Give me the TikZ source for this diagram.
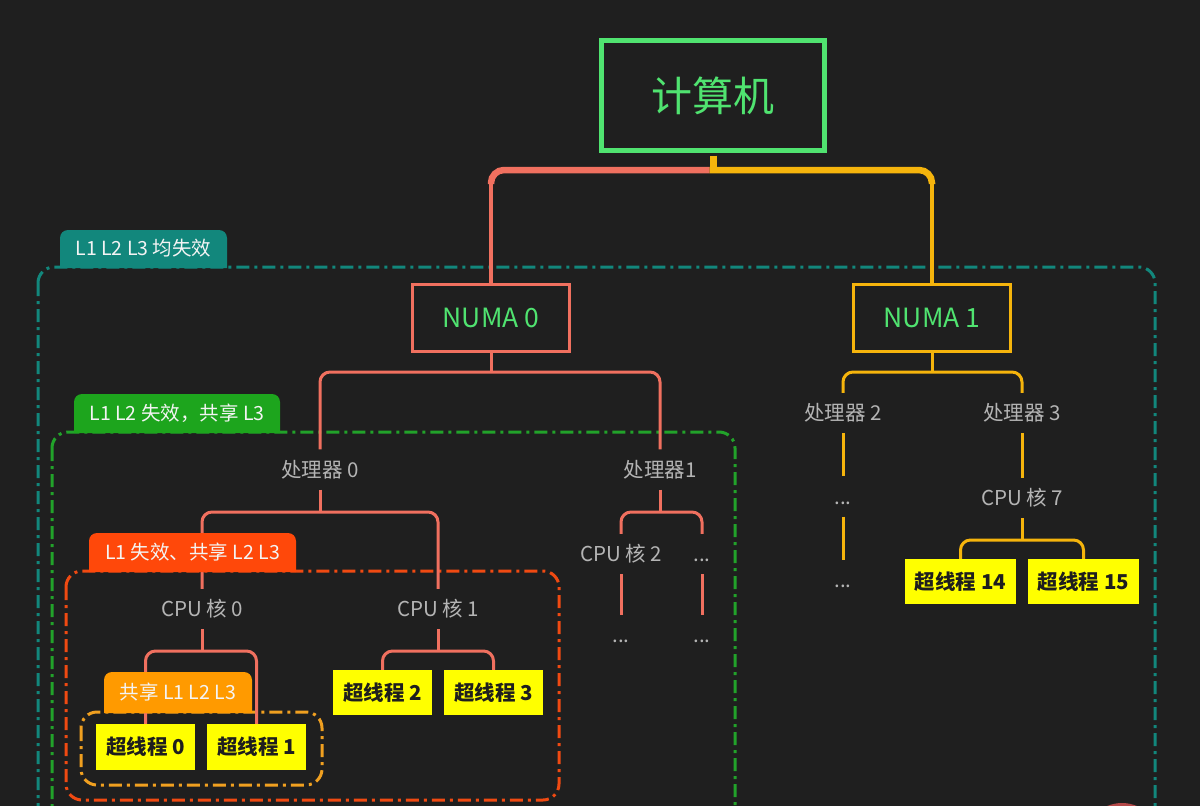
\documentclass[tikz,border=0pt]{standalone}
\usepackage{fontspec}
\setmainfont{Noto Sans CJK SC}
\usetikzlibrary{calc}
\definecolor{bgc}{HTML}{1F1F1F}
\definecolor{greenc}{HTML}{50E370}
\definecolor{salmon}{HTML}{F0705F}
\definecolor{orangec}{HTML}{F5B40C}
\definecolor{tealc}{HTML}{12877C}
\definecolor{greentab}{HTML}{1DA51D}
\definecolor{greendash}{HTML}{22A22A}
\definecolor{redtab}{HTML}{FF480A}
\definecolor{reddash}{HTML}{F04A12}
\definecolor{orangetab}{HTML}{FF9A00}
\definecolor{orangedash}{HTML}{F0A020}
\definecolor{yel}{HTML}{FFFF00}
\definecolor{darktxt}{HTML}{1E1E1E}
\definecolor{graytxt}{HTML}{B4B4B4}
\definecolor{tabtxt}{HTML}{F4F4F4}
\definecolor{circc}{HTML}{B44848}
\begin{document}
\begin{tikzpicture}[x=1pt,y=-1pt,
  gtext/.style={text=graytxt, font=\fontsize{20.5}{24}\selectfont, inner sep=0pt,
    minimum height=40pt, text height=18pt, text depth=2.5pt},
  hbox/.style={fill=yel, text=darktxt, font=\fontsize{20.5}{24}\selectfont\bfseries,
    inner sep=0pt, minimum width=99pt, minimum height=46pt, text height=18pt, text depth=2.5pt},
  numabox/.style={line width=3pt, minimum width=157pt, minimum height=67pt, inner sep=0pt,
    text=greenc, font=\fontsize{26.5}{30}\selectfont},
  tree/.style={line width=3pt, rounded corners=10pt},
  ddash/.style={line width=3pt, dash pattern=on 13pt off 5pt on 3pt off 5pt, rounded corners=16pt},
  tabtext/.style={text=tabtxt, font=\fontsize{19.5}{22}\selectfont, inner sep=0pt,
    text height=17.2pt, text depth=2.3pt}
]
\useasboundingbox (0,0) rectangle (1200,806);
\fill[bgc] (0,0) rectangle (1200,806);

% dash-dot group boxes
\draw[ddash, tealc] (38,267) rectangle (1155,860);
\draw[ddash, greendash] (52,432) rectangle (735,860);
\draw[ddash, reddash] (66,571) rectangle (559,800);
\draw[ddash, orangedash] (81,712) rectangle (322,785);

% nodes
\node[draw=greenc, line width=5pt, minimum width=223pt, minimum height=110pt, inner sep=0pt,
  text=greenc, font=\fontsize{41}{48}\selectfont] (comp) at (713,95.5) {计算机};
\node[numabox, draw=salmon] (numa0) at (491,318) {NUMA 0};
\node[numabox, draw=orangec] (numa1) at (932,318) {NUMA 1};

\node[gtext] (p0) at (320,469.5) {处理器 0};
\node[gtext] (p1) at (660,469.5) {处理器1};
\node[gtext] (c0) at (202,609) {CPU 核 0};
\node[gtext] (c1) at (438,609) {CPU 核 1};
\node[gtext] (c2) at (621,554) {CPU 核 2};
\node[gtext] (e1) at (702,554) {...};
\node[gtext] (e2) at (621,635) {...};
\node[gtext] (e3) at (702,635) {...};

\node[gtext] (p2) at (843,413) {处理器 2};
\node[gtext] (p3) at (1022,413) {处理器 3};
\node[gtext] (e4) at (843,496.5) {...};
\node[gtext] (e5) at (843,580) {...};
\node[gtext] (c7) at (1022,498) {CPU 核 7};

\node[hbox] (t0) at (145.5,747) {超线程 0};
\node[hbox] (t1) at (256.5,747) {超线程 1};
\node[hbox, minimum height=45pt] (t2) at (382.5,692.5) {超线程 2};
\node[hbox, minimum height=45pt] (t3) at (493.5,692.5) {超线程 3};
\node[hbox, minimum width=111pt, minimum height=45pt] (t14) at (960.5,581.5) {超线程 14};
\node[hbox, minimum width=111pt, minimum height=45pt] (t15) at (1083.5,581.5) {超线程 15};

% junction coordinates
\coordinate (j0) at (713,170);
\coordinate (j1) at (491,372);
\coordinate (j2) at (320,512);
\coordinate (j3) at (660,512);
\coordinate (j4) at (202,651);
\coordinate (j5) at (438,651);
\coordinate (j6) at (932,372);
\coordinate (j7) at (1022,540);
\coordinate (k0) at (491,184);
\coordinate (k1) at (932,184);

% top connectors
\draw[salmon, line width=3.5pt] (numa0.north) -- (k0);
\draw[orangec, line width=3.5pt] (numa1.north) -- (k1);
\draw[salmon, line width=6.5pt, rounded corners=13pt] (k0) |- ($(j0)+(-3.5,0)$);
\draw[orangec, line width=6.5pt, rounded corners=13pt] (k1) |- ($(j0)+(-3.5,0)$);
\draw[orangec, line width=7pt, shorten <=2.5pt] (comp.south) -- ($(j0)+(0,3)$);

% NUMA 0 subtree
\draw[tree, salmon] (numa0.south) -- (j1);
\draw[tree, salmon] (p0.north) |- (j1) -| (p1.north);
\draw[tree, salmon] (p0.south) -- (j2);
\draw[tree, salmon] (c0.north) |- (j2) -| (c1.north);
\draw[tree, salmon] (p1.south) -- (j3);
\draw[tree, salmon] (c2.north) |- (j3) -| (e1.north);
\draw[tree, salmon] (c2.south) -- (e2.north);
\draw[tree, salmon] (e1.south) -- (e3.north);
\draw[tree, salmon] (c0.south) -- (j4);
\draw[tree, salmon] (t0.north) |- (j4) -| (t1.north);
\draw[tree, salmon] (c1.south) -- (j5);
\draw[tree, salmon] (t2.north) |- (j5) -| (t3.north);

% NUMA 1 subtree
\draw[tree, orangec] (numa1.south) -- (j6);
\draw[tree, orangec] (p2.north) |- (j6) -| (p3.north);
\draw[tree, orangec] (p2.south) -- (e4.north);
\draw[tree, orangec] (e4.south) -- (e5.north);
\draw[tree, orangec] (p3.south) -- (c7.north);
\draw[tree, orangec] (c7.south) -- (j7);
\draw[tree, orangec] (t14.north) |- (j7) -| (t15.north);

% group tabs
\fill[tealc, rounded corners=8pt] (60,268) -- (60,230) -- (227,230) -- (227,268);
\fill[greentab, rounded corners=8pt] (74,433) -- (74,394) -- (280,394) -- (280,433);
\fill[redtab, rounded corners=8pt] (89,572) -- (89,533) -- (296,533) -- (296,572);
\fill[orangetab, rounded corners=8pt] (104,713) -- (104,672) -- (252,672) -- (252,713);
\node[tabtext] (lab1) at (143.5,248.5) {L1 L2 L3 均失效};
\node[tabtext] (lab2) at (177,413) {L1 L2 失效，共享 L3};
\node[tabtext] (lab3) at (192.5,552) {L1 失效、共享 L2 L3};
\node[tabtext] (lab4) at (178,692) {共享 L1 L2 L3};

% partial circle at bottom right
\fill[circc] (1122,841) circle (38);
\end{tikzpicture}
\end{document}
